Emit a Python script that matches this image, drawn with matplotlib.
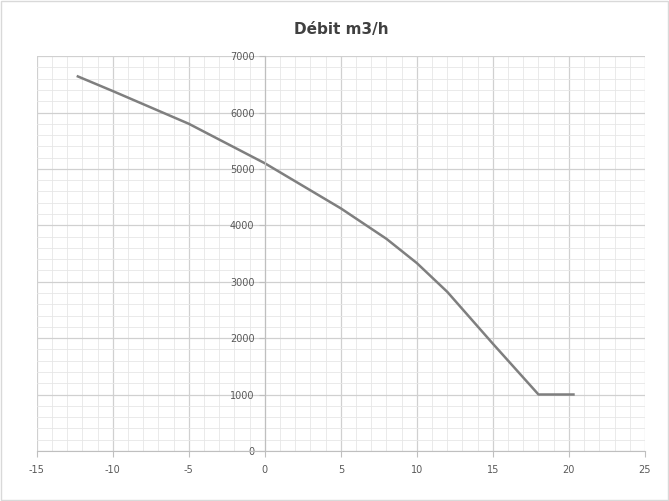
import matplotlib.pyplot as plt
from matplotlib.ticker import AutoMinorLocator

plt.rcParams['axes.unicode_minus'] = False

# temperature exterieure (°C) vs debit (m3/h)
temp = [-12.3, -10, -5, 0, 5, 8, 10, 12, 15, 18, 20.3]
debit = [6640, 6380, 5800, 5100, 4300, 3760, 3330, 2820, 1900, 1000, 1000]

x_ticks = [-15, -10, -5, 0, 5, 10, 15, 20, 25]
y_ticks = [0, 1000, 2000, 3000, 4000, 5000, 6000, 7000]

fig = plt.figure(figsize=(6.69, 5.01), dpi=100)
ax = fig.add_axes([0.055, 0.1, 0.909, 0.788])

ax.plot(temp, debit, color='#7f7f7f', lw=1.8)

ax.set_xlim(-15, 25)
ax.set_ylim(0, 7000)
ax.set_xticks(x_ticks)
ax.set_yticks(y_ticks)
ax.xaxis.set_minor_locator(AutoMinorLocator(5))
ax.yaxis.set_minor_locator(AutoMinorLocator(5))
ax.grid(True, which='major', color='#d0d0d0', lw=0.9)
ax.grid(True, which='minor', color='#e6e6e6', lw=0.6)
ax.set_axisbelow(True)

# axe des y au croisement x=0 comme dans Excel
ax.spines['left'].set_position(('data', 0))
ax.spines['left'].set_color('#bfbfbf')
ax.spines['bottom'].set_color('#bfbfbf')
ax.spines['top'].set_visible(False)
ax.spines['right'].set_visible(False)
ax.tick_params(which='both', colors='#bfbfbf', labelcolor='#595959', labelsize=7, length=4)
ax.tick_params(which='minor', length=0)
ax.tick_params(axis='x', pad=6)

ax.set_title('Débit m3/h', fontsize=11, fontweight='bold', color='#404040', pad=16)

fig.patches.append(plt.Rectangle((0.002, 0.002), 0.996, 0.996, transform=fig.transFigure,
                                 fill=False, edgecolor='#d9d9d9', lw=1))
fig.savefig('out.png', dpi=100)
